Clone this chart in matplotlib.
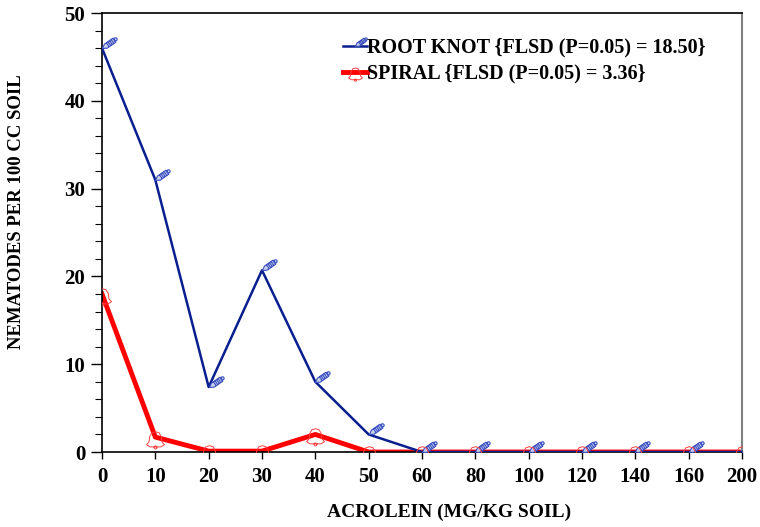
import numpy as np
import matplotlib
matplotlib.use("Agg")
import matplotlib.pyplot as plt
from matplotlib.path import Path
from matplotlib.lines import Line2D

# Acrolein doses (mg/kg soil), plotted at evenly spaced positions
doses = ["0", "10", "20", "30", "40", "50", "60", "80", "100", "120", "140", "160", "200"]
root_knot = [46.0, 31.0, 7.4, 20.7, 8.0, 2.0, 0.0, 0.0, 0.0, 0.0, 0.0, 0.0, 0.0]
spiral = [18.0, 1.7, 0.1, 0.1, 2.0, 0.0, 0.0, 0.0, 0.0, 0.0, 0.0, 0.0, 0.0]
labels = ["ROOT KNOT {FLSD (P=0.05) = 18.50}", "SPIRAL {FLSD (P=0.05) = 3.36}"]

plt.rcParams["font.family"] = ["Liberation Serif", "DejaVu Serif"]
plt.rcParams["font.weight"] = "bold"


def pencil_marker():
    # pencil with its tip at the origin, pointing down-left
    pts = [(0, 0), (0.28, 0.17), (1.0, 0.17), (1.0, -0.17), (0.28, -0.17), (0, 0)]
    ang = np.deg2rad(35)
    c, s = np.cos(ang), np.sin(ang)
    verts = [(x * c - y * s, x * s + y * c) for x, y in pts]
    codes = [Path.MOVETO] + [Path.LINETO] * 4 + [Path.CLOSEPOLY]
    # stripes on the body
    for t in (0.45, 0.58, 0.71, 0.84):
        for yy, code in ((0.17, Path.MOVETO), (-0.17, Path.LINETO)):
            verts.append((t * c - yy * s, t * s + yy * c))
            codes.append(code)
    # eraser end
    circ = Path.circle((1.1 * c, 1.1 * s), 0.11)
    verts += [tuple(v) for v in circ.vertices]
    codes += list(circ.codes)
    verts += [(-1.2, -1.2)]
    codes += [Path.MOVETO]
    return Path(verts, codes)


def bell_marker():
    # small bell outline with a clapper, centred a little below the origin
    outline = [(-0.5, -0.3), (-0.36, -0.15), (-0.32, 0.15), (-0.2, 0.36),
               (0.0, 0.42), (0.2, 0.36), (0.32, 0.15), (0.36, -0.15), (0.5, -0.3),
               (0.3, -0.42), (-0.3, -0.42), (-0.5, -0.3)]
    verts = [(x, y - 0.1) for x, y in outline]
    codes = [Path.MOVETO] + [Path.LINETO] * (len(outline) - 2) + [Path.CLOSEPOLY]
    circ = Path.circle((0.0, -0.55), 0.08)
    verts += [tuple(v) for v in circ.vertices]
    codes += list(circ.codes)
    verts += [(1.0, 1.0)]
    codes += [Path.MOVETO]
    return Path(verts, codes)


fig = plt.figure(figsize=(7.6, 5.27), dpi=100)
ax = fig.add_axes([0.1342, 0.1423, 0.8421, 0.833])

x = np.arange(len(doses))
blue = "#0a1f8f"
red = "#ff0000"

ax.plot(x, root_knot, color=blue, lw=1.8, zorder=3)
ax.plot(x, root_knot, ls="none", marker=pencil_marker(), ms=25,
        mfc="#c8d0f0", mec="#3a4fc0", mew=0.8, zorder=4)
ax.plot(x, spiral, color=red, lw=3.5, zorder=2)
ax.plot(x, spiral, ls="none", marker=bell_marker(), ms=26,
        mfc="none", mec="#ff4040", mew=0.7, zorder=4)

ax.set_xlim(0, len(doses) - 1)
ax.set_ylim(0, 50)
ax.set_xticks(x)
ax.set_xticklabels(doses)
ax.set_yticks(np.arange(0, 51, 10))
ax.set_yticks(np.arange(0, 51, 2), minor=True)

ax.tick_params(axis="both", which="major", direction="out", labelsize=15,
               length=8, width=1)
ax.tick_params(axis="y", which="major", pad=4)
ax.tick_params(axis="x", which="major", length=5, pad=6)
ax.tick_params(axis="y", which="minor", direction="out", length=5, width=0.8)
for lab in ax.get_xticklabels() + ax.get_yticklabels():
    lab.set_fontweight("bold")

for side in ("left", "bottom", "top"):
    ax.spines[side].set_color("black")
    ax.spines[side].set_linewidth(1.2)
ax.spines["right"].set_color("#808080")
ax.spines["right"].set_linewidth(1.5)

ax.set_xlabel("ACROLEIN (MG/KG SOIL)", fontsize=14, fontweight="bold")
ax.set_ylabel("NEMATODES PER 100 CC SOIL", fontsize=13.5, fontweight="bold")
ax.xaxis.set_label_coords(0.542, -0.118)
ax.yaxis.set_label_coords(-0.120, 0.547)

handles = [
    Line2D([], [], color=blue, lw=1.8, marker=pencil_marker(), ms=20,
           mfc="#c8d0f0", mec="#3a4fc0", mew=0.8),
    Line2D([], [], color=red, lw=3.5, marker=bell_marker(), ms=20,
           mfc="none", mec="#ff4040", mew=0.7),
]
ax.legend(handles, labels, loc="upper left", bbox_to_anchor=(0.348, 0.985),
          frameon=False, handlelength=1.2, handletextpad=0.0,
          labelspacing=0.3, prop={"size": 14.5, "weight": "bold"})

fig.savefig("out.png", dpi=100)
